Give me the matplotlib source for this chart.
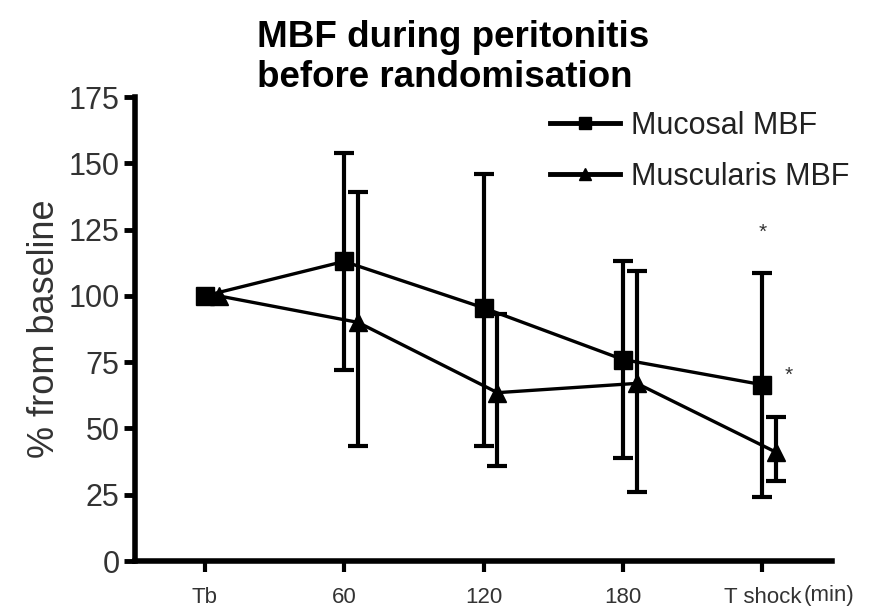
import matplotlib
matplotlib.use('Agg')
import matplotlib.pyplot as plt
from matplotlib.lines import Line2D
import numpy as np

# Datos (% respecto al basal)
categorias = ['Tb', '60', '120', '180', 'T shock']
mucosal = [100, 113, 95.5, 76, 66.5]
mucosal_sup = [100, 154, 146, 113, 108.5]
mucosal_inf = [100, 72, 43.5, 39, 24]
muscularis = [100, 90, 63.5, 67, 41]
muscularis_sup = [100, 139, 93, 109.5, 54.5]
muscularis_inf = [100, 43.5, 36, 26, 30]
yticks = [0, 25, 50, 75, 100, 125, 150, 175]

plt.rcParams['font.family'] = ['Liberation Sans', 'DejaVu Sans']

fig = plt.figure(figsize=(8.7, 6.11), dpi=100)
ax = fig.add_axes([0.1552, 0.0818, 0.9563 - 0.1552, 0.8412 - 0.0818])

x = np.arange(len(categorias))
x_mus = x + 0.1

# Mucosal
m = np.array(mucosal)
ax.plot(x, m, '-', color='black', lw=2.4, zorder=3)
ax.errorbar(x[1:], m[1:],
            yerr=[m[1:] - np.array(mucosal_inf[1:]), np.array(mucosal_sup[1:]) - m[1:]],
            fmt='none', ecolor='black', elinewidth=3, capsize=7, capthick=3, zorder=3)
ax.plot(x, m, 's', color='black', markersize=13, zorder=4)

# Muscularis
u = np.array(muscularis)
ax.plot(x_mus, u, '-', color='black', lw=2.4, zorder=3)
ax.errorbar(x_mus[1:], u[1:],
            yerr=[u[1:] - np.array(muscularis_inf[1:]), np.array(muscularis_sup[1:]) - u[1:]],
            fmt='none', ecolor='black', elinewidth=3, capsize=7, capthick=3, zorder=3)
ax.plot(x_mus, u, '^', color='black', markersize=13, zorder=4)

# Asteriscos de significancia
ax.text(4, 124, '*', ha='center', va='center', fontsize=15, color='#333333')
ax.text(4.19, 70, '*', ha='center', va='center', fontsize=15, color='#333333')

ax.set_xlim(-0.5, 4.5)
ax.set_ylim(0, 175)
ax.set_yticks(yticks)
ax.set_yticklabels([str(v) for v in yticks], fontsize=22, color='#333333')
ax.set_xticks(x)
ax.set_xticklabels(categorias, fontsize=16, color='#333333')

for s in ['top', 'right']:
    ax.spines[s].set_visible(False)
for s in ['left', 'bottom']:
    ax.spines[s].set_linewidth(4)
ax.tick_params(axis='y', length=8, width=3.5, pad=3)
ax.tick_params(axis='x', length=8, width=3, pad=11)

# unidad del eje x, a la derecha del ultimo tick
ax.annotate('(min)', xy=(4, 0), xycoords='data', xytext=(30, -29),
            textcoords='offset points', ha='left', va='baseline',
            fontsize=16, color='#333333', annotation_clip=False)

ax.set_ylabel('% from baseline', fontsize=26, color='#333333', labelpad=5)

fig.text(257 / 870, 1 - 20 / 611, 'MBF during peritonitis\nbefore randomisation',
         ha='left', va='top', fontsize=26.5, fontweight='bold', linespacing=1.18)

handles = [
    Line2D([], [], color='black', lw=3.5, marker='s', markersize=9),
    Line2D([], [], color='black', lw=3.5, marker='^', markersize=9),
]
fig.legend(handles, ['Mucosal MBF', 'Muscularis MBF'], loc='upper left',
           bbox_to_anchor=(550 / 870, 1 - 111 / 611), frameon=False, fontsize=22,
           handlelength=2.3, handletextpad=0.35, labelspacing=0.68,
           borderpad=0, borderaxespad=0, labelcolor='#222222')

fig.savefig('out.png', dpi=100)
